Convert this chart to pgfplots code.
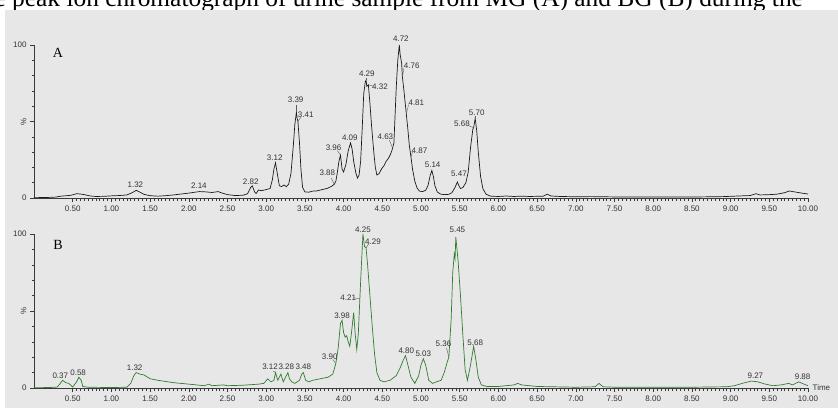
\documentclass[border=0pt]{standalone}
\usepackage{pgfplots}
\pgfplotsset{compat=1.18}
\usepackage{pgfplotstable}
\usepackage{graphicx}
\usepackage{fontspec}
\setmainfont{Liberation Sans}
\newfontfamily\seriffont{Liberation Serif}

\definecolor{bg}{HTML}{E7E7E7}
\definecolor{axcol}{HTML}{3A3A3A}
\definecolor{labcol}{HTML}{333333}
\definecolor{tracea}{HTML}{1A1A1A}
\definecolor{traceb}{HTML}{2F7D2F}

% chromatogram A (MG)
\pgfplotstableread{
t y
0.00 0.2
0.10 0.3
0.20 0.4
0.28 0.6
0.35 1.2
0.42 1.5
0.48 1.8
0.55 2.8
0.60 2.6
0.65 2.2
0.72 1.4
0.80 1.0
0.90 1.1
1.00 1.4
1.10 1.6
1.20 2.0
1.27 3.5
1.32 5.0
1.37 3.8
1.42 2.4
1.50 1.5
1.60 1.2
1.70 1.5
1.80 2.0
1.90 2.6
2.00 3.2
2.08 3.8
2.14 4.2
2.22 4.0
2.30 3.6
2.38 4.2
2.42 3.4
2.50 2.2
2.60 1.6
2.70 1.8
2.76 2.8
2.80 7.0
2.82 8.0
2.85 4.0
2.87 3.0
2.90 5.2
2.94 4.8
3.00 5.5
3.05 6.2
3.08 12
3.10 19
3.12 23
3.14 17
3.17 8
3.20 7.5
3.23 8.5
3.26 7.4
3.29 9
3.32 16
3.35 34
3.37 48
3.39 56
3.40 52
3.41 50
3.43 36
3.45 18
3.47 7
3.50 4
3.55 3.8
3.60 4.5
3.65 4.6
3.70 5.2
3.75 5.8
3.80 6.5
3.85 7.8
3.88 9.0
3.90 11
3.92 17
3.94 24
3.96 28
3.98 19
4.00 17
4.03 22
4.06 31
4.09 36
4.11 32
4.13 24
4.16 16
4.18 13
4.20 15
4.22 24
4.24 45
4.26 68
4.28 76
4.29 77
4.30 73
4.32 74
4.34 62
4.36 48
4.39 30
4.41 20
4.43 15
4.46 16
4.49 19
4.52 21
4.55 24
4.58 26
4.61 29
4.63 32
4.65 36
4.66 48
4.68 72
4.70 90
4.72 100
4.73 94
4.75 88
4.76 79
4.78 70
4.80 60
4.81 55
4.83 45
4.85 34
4.87 27
4.89 19
4.92 11
4.95 6.5
4.98 4.5
5.02 4.2
5.06 5.0
5.09 8
5.12 15
5.14 18
5.16 14
5.18 8
5.21 4.0
5.25 2.6
5.30 2.2
5.36 2.4
5.40 3.5
5.44 7
5.47 10.5
5.49 8
5.51 6.2
5.54 6.8
5.58 10
5.61 17
5.64 33
5.67 45
5.68 46
5.70 52
5.72 44
5.74 30
5.77 14
5.80 6
5.84 2.5
5.90 1.2
6.00 1.0
6.10 1.3
6.20 1.0
6.30 1.2
6.40 1.0
6.50 1.1
6.58 1.2
6.63 2.5
6.68 1.3
6.80 1.0
7.00 0.8
7.20 0.9
7.50 0.7
7.80 0.7
8.00 0.6
8.30 0.7
8.60 0.7
8.90 0.9
9.10 1.3
9.25 1.6
9.33 2.8
9.38 2.0
9.50 2.2
9.60 2.5
9.70 3.5
9.76 4.6
9.80 4.2
9.85 3.8
9.92 3.2
10.00 2.6
}\dataA

% chromatogram B (BG)
\pgfplotstableread{
t y
0.00 0.2
0.20 0.3
0.30 0.6
0.34 3
0.37 5
0.41 3.5
0.45 3
0.50 0.6
0.55 4
0.58 7
0.61 5
0.63 1
0.70 0.5
0.85 0.4
1.00 0.3
1.20 0.5
1.25 3
1.29 8
1.32 10
1.37 9
1.42 8.5
1.50 6
1.60 5
1.80 3.5
2.00 2.5
2.20 1.5
2.26 2.5
2.30 1.5
2.45 2
2.50 1.5
2.70 1.8
2.90 2.5
2.97 3
3.02 6
3.06 4
3.10 5
3.12 10
3.15 5
3.19 9
3.22 4
3.26 8
3.28 10
3.30 6
3.33 4
3.37 3
3.43 5
3.46 9
3.48 10
3.51 5
3.55 4
3.60 5
3.70 6
3.80 7
3.86 9
3.90 16
3.93 26
3.96 42
3.98 44
4.00 36
4.02 33
4.04 34
4.06 30
4.08 27
4.10 35
4.13 49
4.15 35
4.17 25
4.19 35
4.21 58
4.23 80
4.25 100
4.27 92
4.29 91
4.31 80
4.34 60
4.37 40
4.40 22
4.43 10
4.47 5
4.52 4
4.60 5
4.68 8
4.73 13
4.77 18
4.80 21
4.83 15
4.87 7
4.92 3
4.97 8
5.00 15
5.03 19
5.06 15
5.10 5
5.15 3
5.20 4
5.26 5
5.30 10
5.34 17
5.36 20
5.39 45
5.41 75
5.43 87
5.44 84
5.45 98
5.48 82
5.51 60
5.54 35
5.57 12
5.60 5
5.64 15
5.68 27
5.71 18
5.74 7
5.78 2
5.85 1
6.00 1
6.20 2
6.25 3
6.30 2
6.40 1.5
6.50 1
7.00 0.5
7.25 0.8
7.30 3
7.35 0.8
7.50 0.5
8.00 0.5
8.50 0.5
8.95 0.8
9.05 1.5
9.15 3
9.27 4.5
9.35 4
9.45 2.5
9.55 1.5
9.65 2
9.75 3
9.80 2
9.88 4
9.95 2.5
10.00 1.5
}\dataB

\tikzset{
  lab/.style={font=\fontsize{8}{8}\selectfont, text=labcol, inner sep=0.5pt},
  lead/.style={draw=labcol!80, line width=0.4pt},
}

\pgfplotsset{
  chrom/.style={
    scale only axis,
    width=774pt,
    xmin=0, xmax=10, ymin=0, ymax=100,
    axis x line*=bottom, axis y line*=left,
    axis line style={-, draw=axcol, line width=0.9pt},
    tick align=outside,
    major tick length=4pt, minor tick length=2.5pt,
    every tick/.style={draw=axcol, line width=0.6pt},
    xtick={0.5,1,...,10},
    minor x tick num=9,
    ytick={0,50,100},
    minor ytick={10,20,30,40,60,70,80,90},
    yticklabels={0,{\rotatebox{90}{\%}},100},
    /pgf/number format/assume math mode=true,
    xticklabel style={/pgf/number format/.cd, fixed, fixed zerofill, precision=2},
    tick label style={font=\fontsize{8}{8}\selectfont, text=labcol},
    clip=false,
  },
}

\begin{document}
\begin{tikzpicture}[x=1pt,y=1pt]
\useasboundingbox (0,0) rectangle (838,408);
\clip (0,0) rectangle (838,408);
\node[anchor=base west, inner sep=0, font=\seriffont\fontsize{25.4}{25.4}\selectfont] at (-43.7,401)
  {Base peak ion chromatograph of urine sample from MG (A) and BG (B) during the};
\fill[bg] (5,0) rectangle (838,398);

\node[font=\seriffont\fontsize{14}{14}\selectfont] at (58,355) {A};
\node[font=\seriffont\fontsize{14}{14}\selectfont] at (58,163) {B};

% panel A
\begin{axis}[chrom, at={(34pt,210pt)}, anchor=south west, height=153pt]
\addplot[tracea, line width=0.7pt] table[x=t, y=y] {\dataA};
\node[lab] at (axis cs:1.31,8.5) {1.32};
\node[lab] at (axis cs:2.13,7.8) {2.14};
\node[lab] at (axis cs:2.80,10.7) {2.82};
\node[lab] at (axis cs:3.11,26) {3.12};
\node[lab] at (axis cs:3.38,64) {3.39};
\node[lab] at (axis cs:3.51,54.7) {3.41};
\node[lab] at (axis cs:3.79,16.8) {3.88};
\node[lab] at (axis cs:3.87,33) {3.96};
\node[lab] at (axis cs:4.08,39.5) {4.09};
\node[lab] at (axis cs:4.30,81) {4.29};
\node[lab] at (axis cs:4.47,72.8) {4.32};
\node[lab] at (axis cs:4.54,40) {4.63};
\node[lab] at (axis cs:4.74,104) {4.72};
\node[lab] at (axis cs:4.88,86.5) {4.76};
\node[lab] at (axis cs:4.94,62) {4.81};
\node[lab] at (axis cs:4.98,31) {4.87};
\node[lab] at (axis cs:5.15,22) {5.14};
\node[lab] at (axis cs:5.49,15.7) {5.47};
\node[lab] at (axis cs:5.53,48.4) {5.68};
\node[lab] at (axis cs:5.72,56) {5.70};
\draw[lead] (axis cs:3.41,50) -- (axis cs:3.45,53);
\draw[lead] (axis cs:4.32,74) -- (axis cs:4.39,73);
\draw[lead] (axis cs:4.76,79) -- (axis cs:4.78,85);
\draw[lead] (axis cs:4.81,55) -- (axis cs:4.84,61);
\draw[lead] (axis cs:4.87,27) -- (axis cs:4.89,30);
\draw[lead] (axis cs:3.84,13) -- (axis cs:3.88,9);
\draw[lead] (axis cs:3.92,31) -- (axis cs:3.96,28);
\draw[lead] (axis cs:4.59,38) -- (axis cs:4.63,33);
\draw[lead] (axis cs:5.60,47.5) -- (axis cs:5.68,46);
\draw[lead] (axis cs:3.39,56) -- (axis cs:3.39,61);
\draw[lead] (axis cs:4.29,77) -- (axis cs:4.29,78.5);
\draw[lead] (axis cs:5.70,52) -- (axis cs:5.70,53.5);
\end{axis}

% panel B
\begin{axis}[chrom, at={(34pt,20pt)}, anchor=south west, height=154pt]
\addplot[traceb, line width=0.7pt] table[x=t, y=y] {\dataB};
\node[lab] at (axis cs:0.34,8) {0.37};
\node[lab] at (axis cs:0.57,10) {0.58};
\node[lab] at (axis cs:1.30,13.4) {1.32};
\node[lab] at (axis cs:3.05,13.5) {3.12};
\node[lab] at (axis cs:3.26,13.5) {3.28};
\node[lab] at (axis cs:3.48,13.5) {3.48};
\node[lab] at (axis cs:3.82,20.3) {3.90};
\node[lab] at (axis cs:3.98,47) {3.98};
\node[lab] at (axis cs:4.06,58.6) {4.21};
\node[lab] at (axis cs:4.25,103) {4.25};
\node[lab] at (axis cs:4.38,95) {4.29};
\node[lab] at (axis cs:4.81,24) {4.80};
\node[lab] at (axis cs:5.03,22) {5.03};
\node[lab] at (axis cs:5.29,28.6) {5.36};
\node[lab] at (axis cs:5.47,103) {5.45};
\node[lab] at (axis cs:5.70,29.7) {5.68};
\node[lab] at (axis cs:9.32,8) {9.27};
\node[lab] at (axis cs:9.93,7.3) {9.88};
\draw[lead] (axis cs:3.09,11) -- (axis cs:3.12,10);
\draw[lead] (axis cs:3.86,18.5) -- (axis cs:3.90,16);
\draw[lead] (axis cs:4.13,58.5) -- (axis cs:4.21,58);
\draw[lead] (axis cs:4.29,91) -- (axis cs:4.33,94);
\draw[lead] (axis cs:5.33,26) -- (axis cs:5.36,20);
\node[lab, anchor=west] at (axis cs:10,0) [xshift=4pt] {Time};
\end{axis}
\end{tikzpicture}
\end{document}
